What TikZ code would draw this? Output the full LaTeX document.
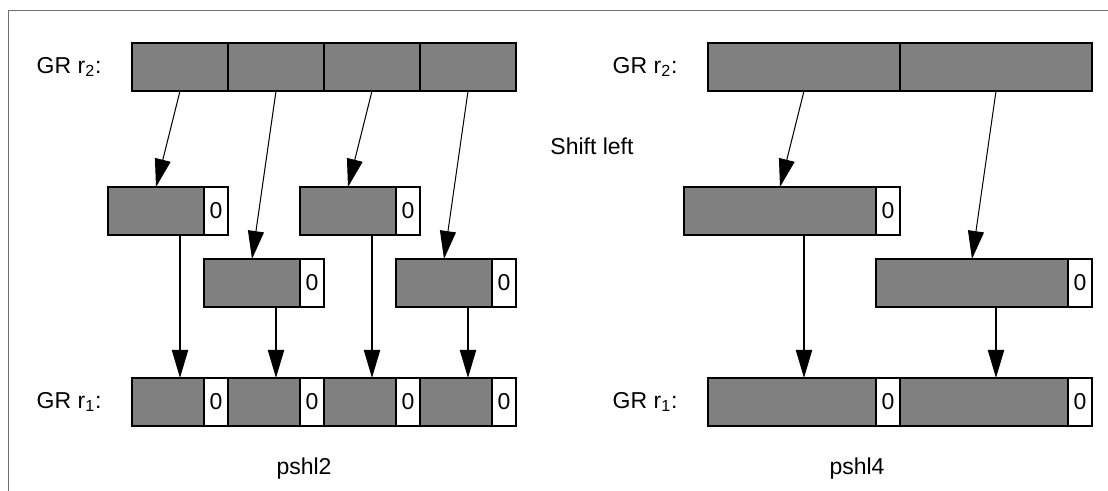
\documentclass[tikz,border=0pt]{standalone}
\usepackage{fontspec}
\setmainfont{Liberation Sans}
\usepackage{tikz}
\usetikzlibrary{arrows.meta,positioning,calc}
\definecolor{regfill}{HTML}{808080}
\definecolor{framegray}{HTML}{707070}

\begin{document}
\begin{tikzpicture}[x=0.5pt, y=-0.5pt,
  font=\fontsize{11.5}{13}\selectfont,
  cell/.style={draw, line width=1pt, fill=regfill, minimum height=24pt, inner sep=0pt, outer sep=0pt, anchor=north west},
  zero/.style={draw, line width=1pt, fill=white, minimum width=12pt, minimum height=24pt, inner sep=0pt, outer sep=0pt, right=0pt of #1},
  thinarrow/.style={-{Triangle[length=14pt,width=8pt]}, line width=0.5pt},
  thickarrow/.style={-{Triangle[length=14pt,width=8pt]}, line width=1pt},
  lbl/.style={inner sep=0pt}]
  \useasboundingbox (0,0) rectangle (1108,491);
  % frame
  \draw[framegray, line width=0.75pt] (1108,10.5) -- (8.5,10.5) -- (8.5,491);
  % pshl2: source register r2
  \foreach \i in {1,...,4}
    \node[cell, minimum width=48pt] (lsrc\i) at ({36+96*\i},43) {};
  % pshl2: shifted elements
  \foreach \i/\y in {1/187, 2/259, 3/187, 4/259}{
    \node[cell, minimum width=48pt] (lmid\i) at ({12+96*\i},\y) {};
    \node[zero=lmid\i] (lzmid\i) {0};
  }
  % pshl2: result register r1
  \foreach \i in {1,...,4}{
    \node[cell, minimum width=36pt] (ldst\i) at ({36+96*\i},378) {};
    \node[zero=ldst\i] (lzdst\i) {0};
  }
  \foreach \i in {1,...,4}{
    \draw[thinarrow] (lsrc\i.south) -- (lmid\i.north);
    \draw[thickarrow] (lsrc\i |- lmid\i.south) -- (lsrc\i |- ldst\i.north);
  }
  \node[lbl, left=15pt of lsrc1.west] (lr2) {GR r\textsubscript{2}:};
  \node[lbl, left=15pt of ldst1.west] (lr1) {GR r\textsubscript{1}:};
  \node (pshltwo) at (304,469) {pshl2};
  % pshl4: source register r2
  \foreach \i in {1,2}
    \node[cell, minimum width=96pt] (rsrc\i) at ({516+192*\i},43) {};
  % pshl4: shifted elements
  \foreach \i/\y in {1/187, 2/259}{
    \node[cell, minimum width=96pt] (rmid\i) at ({492+192*\i},\y) {};
    \node[zero=rmid\i] (rzmid\i) {0};
  }
  % pshl4: result register r1
  \foreach \i in {1,2}{
    \node[cell, minimum width=84pt] (rdst\i) at ({516+192*\i},378) {};
    \node[zero=rdst\i] (rzdst\i) {0};
  }
  \foreach \i in {1,2}{
    \draw[thinarrow] (rsrc\i.south) -- (rmid\i.north);
    \draw[thickarrow] (rsrc\i |- rmid\i.south) -- (rsrc\i |- rdst\i.north);
  }
  \node[lbl, left=15pt of rsrc1.west] (rr2) {GR r\textsubscript{2}:};
  \node[lbl, left=15pt of rdst1.west] (rr1) {GR r\textsubscript{1}:};
  \node (pshlfour) at (857,469) {pshl4};
  \node (shiftlbl) at (592,146) {Shift left};
\end{tikzpicture}
\end{document}
